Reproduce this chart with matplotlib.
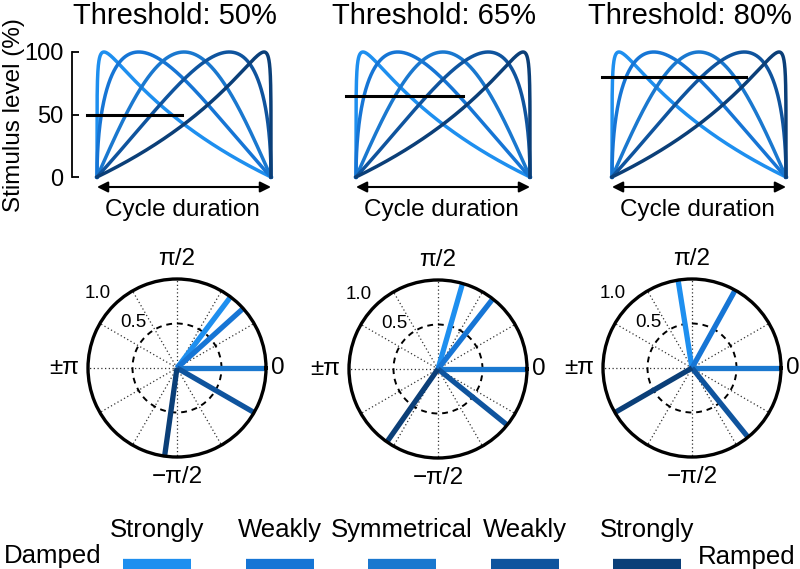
import numpy as np
import matplotlib.pyplot as plt
from matplotlib.lines import Line2D

plt.rcParams['font.family'] = ['Liberation Sans', 'DejaVu Sans']

W, H = 800, 569

# --- data ---
thresholds = [50, 65, 80]
thr_end = [0.49, 0.615, 0.77]            # where the threshold bar stops (cycle fraction)
peaks = [0.04, 0.24, 0.5, 0.76, 0.96]    # peak time of each waveform (cycle fraction)
shape_names = ['Strongly', 'Weakly', 'Symmetrical', 'Weakly', 'Strongly']
colors = ['#1E8FEF', '#1675D5', '#1A78CF', '#0F549E', '#0B3F78']
phase_50 = [53, 42, 0, -30, -98]         # degrees
phase_65 = [74, 52, 0, -39, -125]
phase_80 = [99, 61, 0, -51, -150]
phases = [phase_50, phase_65, phase_80]


def waveform(t, p):
    # sin(pi * t^k) warped so the maximum sits at p
    if p <= 0.5:
        k = np.log(0.5) / np.log(p)
        return 100 * np.sin(np.pi * t ** k)
    k = np.log(0.5) / np.log(1 - p)
    return 100 * np.sin(np.pi * (1 - t) ** k)


fig = plt.figure(figsize=(W / 100, H / 100), dpi=100)

t = np.linspace(0, 1, 3001)
top_left = [97, 356, 612]
for i, thr in enumerate(thresholds):
    ax = fig.add_axes([top_left[i] / W, 1 - 177 / H, 174 / W, 125 / H])
    for p, c in zip(peaks, colors):
        ax.plot(t, waveform(t, p), color=c, lw=2.5, clip_on=False)
    ax.plot([-0.06, thr_end[i]], [thr, thr], color='k', lw=2.2, clip_on=False)
    ax.set_xlim(0, 1)
    ax.set_ylim(0, 100)
    for s in ['top', 'right', 'bottom']:
        ax.spines[s].set_visible(False)
    ax.set_xticks([])
    if i == 0:
        ax.spines['left'].set_position(('outward', 18))
        ax.spines['left'].set_bounds(0, 100)
        ax.spines['left'].set_linewidth(1.3)
        ax.set_yticks([0, 50, 100])
        ax.tick_params(axis='y', direction='in', length=5, width=1.3,
                       labelsize=17, pad=6)
    else:
        ax.spines['left'].set_visible(False)
        ax.set_yticks([])
    ax.patch.set_alpha(0)
    ax.annotate('', xy=(0, -0.08), xytext=(1, -0.08), xycoords='axes fraction',
                arrowprops=dict(arrowstyle='<|-|>', color='k', lw=1.5,
                                shrinkA=0, shrinkB=0, mutation_scale=16))
    ax.text(0.49, -0.265, 'Cycle duration', transform=ax.transAxes,
            ha='center', va='center', fontsize=17.5)
    ax.text(0.45, 1.224, 'Threshold: %d%%' % thr, transform=ax.transAxes,
            ha='center', va='baseline', fontsize=21)

fig.text(14 / W, 1 - 115 / H, 'Stimulus level (%)', rotation=90,
         ha='center', va='center', fontsize=17.5)

# --- polar phase plots ---
centers = [(177, 368), (438, 369), (692, 368)]
r_px = 89
for i, ph in enumerate(phases):
    cx, cy = centers[i]
    ax = fig.add_axes([(cx - r_px) / W, 1 - (cy + r_px) / H,
                       2 * r_px / W, 2 * r_px / H], projection='polar')
    ax.set_ylim(0, 1)
    ax.set_xticks(np.deg2rad(np.arange(0, 360, 30)))
    ax.set_xticklabels([])
    ax.set_yticks([0.5])
    ax.set_yticklabels([])
    ax.xaxis.grid(True, linestyle=(0, (1, 2)), color='#333333', lw=0.9)
    ax.yaxis.grid(True, linestyle=(0, (3, 2.5)), color='k', lw=1.4)
    ax.spines['polar'].set_linewidth(2.4)
    for a, c in zip(ph, colors):
        th = np.deg2rad(a)
        ax.plot([th, th], [0, 1], color=c, lw=3.8, solid_capstyle='butt')
    ax.text(np.pi / 2, 1.1, 'π/2', ha='center', va='bottom', fontsize=17.5)
    ax.text(0, 1.06, '0', ha='left', va='center', fontsize=17.5)
    ax.text(np.pi, 1.1, '±π', ha='right', va='center', fontsize=17.5)
    ax.text(-np.pi / 2, 1.1, '−π/2', ha='center', va='top', fontsize=17.5)
    ax.text(np.deg2rad(137), 1.22, '1.0', ha='center', va='center', fontsize=13.5)
    ax.text(np.deg2rad(134), 0.71, '0.5', ha='center', va='center', fontsize=13.5)

# --- legend along the bottom ---
for i, (name, c) in enumerate(zip(shape_names, colors)):
    xc = 157 + i * 122.5
    fig.add_artist(Line2D([(xc - 34) / W, (xc + 34) / W], [1 - 564 / H] * 2,
                          color=c, lw=7.4, solid_capstyle='butt'))
    fig.text(xc / W, 1 - 537 / H, name, ha='center', va='baseline', fontsize=18.5)
fig.text(4 / W, 1 - 563 / H, 'Damped', ha='left', va='baseline', fontsize=18.5)
fig.text(796 / W, 1 - 564 / H, 'Ramped', ha='right', va='baseline', fontsize=18.5)

fig.savefig('out.png', dpi=100)
